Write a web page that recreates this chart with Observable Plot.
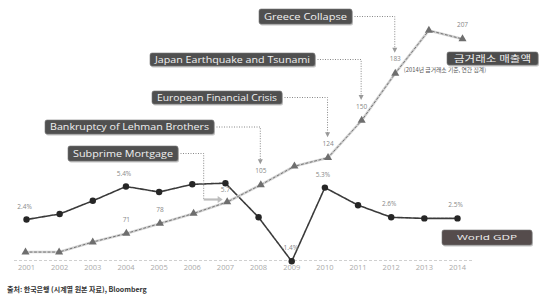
<!DOCTYPE html>
<html><head><meta charset="utf-8">
<script src="https://cdn.jsdelivr.net/npm/d3@7"></script>
<script src="https://cdn.jsdelivr.net/npm/@observablehq/plot@0.6"></script>
<style>
body{margin:0;background:#fff;font-family:"Open Sans","Noto Sans CJK KR",sans-serif;}
#wrap{position:relative;width:540px;height:282px;}
#wrap svg{position:absolute;left:0;top:0;}
#cap{height:16px;line-height:14px;padding-left:7px;font-size:7px;font-weight:bold;color:#333;font-family:"Noto Sans CJK KR","Open Sans",sans-serif;}
</style></head><body>
<div id="wrap"></div><div id="cap"></div>
<script>
// ---- data ----
const years = [2001, 2002, 2003, 2004, 2005, 2006, 2007, 2008, 2009, 2010, 2011, 2012, 2013, 2014];
const gdpGrowth = [2.4, 2.9, 4.1, 5.4, 4.9, 5.6, 5.7, 2.6, -1.4, 5.3, 3.7, 2.6, 2.5, 2.5];
const goldSales = [58, 58, 65, 71, 78, 85, 93, 105, 118, 124, 150, 183, 213, 207];
const gdpLabelYears = [2001, 2004, 2009, 2010, 2012, 2014];
const gdpBelowLabelYears = [2007];
const goldLabelYears = [2004, 2005, 2008, 2010, 2011, 2012, 2014];
const eventYears = [2007, 2008, 2010, 2011, 2012];
const eventNames = ["Subprime Mortgage", "Bankruptcy of Lehman Brothers", "European Financial Crisis", "Japan Earthquake and Tsunami", "Greece Collapse"];
const seriesNames = ["World GDP", "금거래소 매출액"];
const goldNote = "(2014년 금거래소 기준, 연간 집계)";
const sourceText = "출처: 한국은행 (시계열 원본 자료), Bloomberg";

// ---- tables ----
const gdpRows = years.map((year, i) => ({year, value: gdpGrowth[i]}));
const goldRows = years.map((year, i) => ({year, value: goldSales[i]}));

const W = 540, H = 282;
const font = "'Open Sans','Noto Sans CJK KR',sans-serif";

const base = Plot.plot({
  width: W, height: H, marginTop: 0, marginBottom: 22, marginLeft: 14, marginRight: 66,
  style: {background: "transparent", fontFamily: font},
  x: {domain: [2001, 2014], range: [26, 457]},
  y: {domain: [-2, 8], range: [267.4, 157.4], axis: null},
  marks: [
    Plot.frame({anchor: "bottom", stroke: "#d0d0d0", strokeDasharray: "2,3"}),
    Plot.axisX(years, {tickSize: 0, tickPadding: 4, tickFormat: d => String(d), fontSize: 7.5, color: "#aaa", label: null}),
    Plot.line(gdpRows, {x: "year", y: "value", stroke: "#3a3a3a", strokeWidth: 1.6, strokeDasharray: "3,1"}),
    Plot.dot(gdpRows, {x: "year", y: "value", r: 3.2, fill: "#262626"}),
    Plot.text(gdpRows.filter(d => gdpLabelYears.includes(d.year)), {x: "year", y: "value", text: d => d.value.toFixed(1) + "%", dy: -13, dx: -2, fontSize: 6.5, fill: "#888"}),
    Plot.text(gdpRows.filter(d => gdpBelowLabelYears.includes(d.year)), {x: "year", y: "value", text: d => d.value.toFixed(1), dy: 7, fontSize: 6.5, fill: "#888"})
  ]
});

const over = Plot.plot({
  width: W, height: H, margin: 0,
  style: {background: "transparent", fontFamily: font},
  x: {domain: [2001, 2014], range: [25, 462], axis: null},
  y: {domain: [0, 250], range: [334.5, -23], axis: null},
  marks: [
    Plot.line(goldRows, {x: "year", y: "value", stroke: "#d2d2d2", strokeWidth: 2.6}),
    Plot.line(goldRows, {x: "year", y: "value", stroke: "#6a6a6a", strokeWidth: 0.9, strokeDasharray: "2,2.5"}),
    Plot.dot(goldRows, {x: "year", y: "value", symbol: "triangle", r: 3, fill: "#6e6e6e"}),
    Plot.text(goldRows.filter(d => goldLabelYears.includes(d.year)), {x: "year", y: "value", text: d => String(d.value), dy: -14, fontSize: 6.5, fill: "#888"})
  ]
});

document.getElementById("wrap").append(base, over);
document.getElementById("cap").textContent = sourceText;

// ---- annotations (layout in pixels, anchors from the plot's scales) ----
const sx = over.scale("x"), sy = over.scale("y");
const svg = d3.select(over);
const boxLayout = [
  {x: 68, y: 146, w: 110, h: 15},
  {x: 45, y: 120, w: 169, h: 14},
  {x: 152, y: 91, w: 130, h: 13},
  {x: 150, y: 53, w: 165, h: 13},
  {x: 259, y: 9, w: 93, h: 15}
];

function drawBox(x, y, w, h, text, fill, fs, pad) {
  const g = svg.append("g");
  g.append("rect").attr("x", x + 1).attr("y", y + 1.5).attr("width", w).attr("height", h).attr("rx", 2).attr("fill", "#c4c4c4");
  g.append("rect").attr("x", x).attr("y", y).attr("width", w).attr("height", h).attr("rx", 2).attr("fill", fill).attr("stroke", "#777").attr("stroke-width", 0.6);
  g.append("text").attr("x", x + w / 2).attr("y", y + h / 2).attr("dy", "0.36em").attr("text-anchor", "middle")
    .attr("fill", "#f0f0f0").attr("font-size", fs).attr("font-family", font)
    .attr("textLength", w - pad).attr("lengthAdjust", "spacingAndGlyphs").text(text);
}

eventYears.forEach((yr, i) => {
  const b = boxLayout[i];
  const v = goldSales[years.indexOf(yr)];
  const px = sx.apply(yr), py = sy.apply(v);
  const sy0 = b.y + b.h / 2;
  if (i === 0) {
    const vx = px - 23;
    svg.append("path").attr("d", `M${b.x + b.w},${sy0}H${vx}V${py - 2}`).attr("fill", "none").attr("stroke", "#888").attr("stroke-width", 1).attr("stroke-dasharray", "1,1.5");
    svg.append("path").attr("d", `M${vx},${py - 2}H${px - 8}`).attr("stroke", "#bdbdbd").attr("stroke-width", 2.2);
    svg.append("path").attr("d", `M${px - 9},${py - 5.5}L${px - 4},${py - 2}L${px - 9},${py + 1.5}Z`).attr("fill", "#bdbdbd");
  } else {
    const tip = py - 20;
    svg.append("path").attr("d", `M${b.x + b.w},${sy0}H${px}V${tip - 4}`).attr("fill", "none").attr("stroke", "#888").attr("stroke-width", 1).attr("stroke-dasharray", "1,1.5");
    svg.append("path").attr("d", `M${px - 2.5},${tip - 5}L${px + 2.5},${tip - 5}L${px},${tip}Z`).attr("fill", "#999");
  }
  drawBox(b.x, b.y, b.w, b.h, eventNames[i], "#505050", 8.5, 10);
});

// series tags
drawBox(442, 230, 90, 15, seriesNames[0], "#554c4c", 8, 30);
drawBox(447, 52, 91, 13, seriesNames[1], "#4d4d4d", 9, 14);
svg.append("text").attr("x", 445).attr("y", 72).attr("font-size", 5.8).attr("fill", "#555")
  .attr("font-family", "'Noto Sans CJK KR',sans-serif").text(goldNote);
</script>
</body></html>
